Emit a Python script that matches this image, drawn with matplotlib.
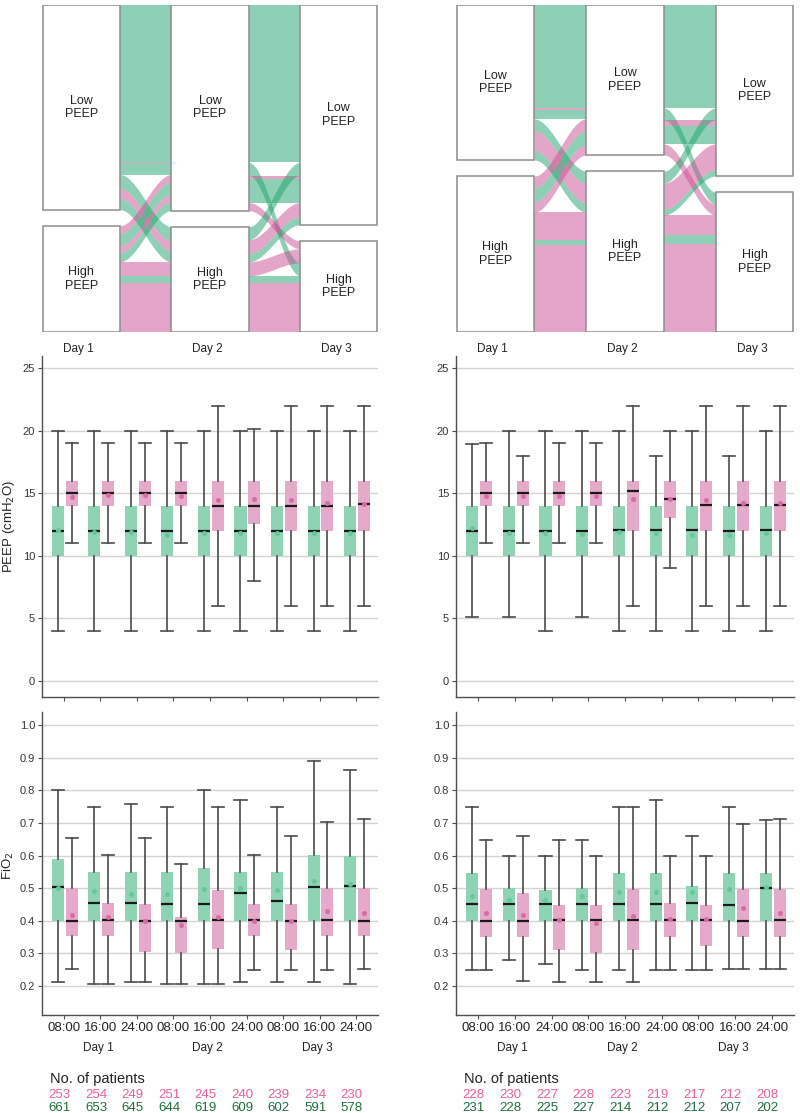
import numpy as np
import matplotlib
matplotlib.use("Agg")
import matplotlib.pyplot as plt
from matplotlib.patches import Rectangle
import matplotlib.transforms as mtransforms

plt.rcParams['font.family'] = ['Liberation Sans', 'DejaVu Sans']

# ---------------- data ----------------
days = ['Day 1', 'Day 2', 'Day 3']
times = ['08:00', '16:00', '24:00', '08:00', '16:00', '24:00', '08:00', '16:00', '24:00']
strata_names = {'L': 'Low\nPEEP', 'H': 'High\nPEEP'}

# alluvial flows (G = green arm, P = pink arm): origin stratum, destination stratum, patients
left_d12_group = ['G', 'P', 'G', 'G', 'P', 'G', 'P', 'G', 'P', 'G', 'P', 'G', 'P']
left_d12_from = ['L', 'L', 'L', 'L', 'L', 'L', 'H', 'H', 'H', 'H', 'H', 'H', 'H']
left_d12_to = ['L', 'L', 'L', 'H', 'H', 'H', 'L', 'L', 'L', 'L', 'H', 'H', 'H']
left_d12_n = [471, 3, 33, 42, 30, 33, 24, 36, 21, 27, 42, 21, 147]
left_d12_order = [0, 1, 2, 3, 4, 5, 6, 7, 8, 9, 10, 11, 12]

left_d23_group = ['G', 'G', 'P', 'G', 'P', 'G', 'P', 'G', 'P', 'G', 'P']
left_d23_from = ['L', 'L', 'L', 'L', 'L', 'H', 'H', 'H', 'H', 'H', 'H']
left_d23_to = ['L', 'H', 'L', 'L', 'H', 'L', 'L', 'L', 'H', 'H', 'H']
left_d23_n = [471, 39, 9, 72, 24, 39, 42, 24, 42, 21, 147]
left_d23_order = [0, 5, 2, 3, 6, 7, 4, 8, 1, 9, 10]

right_d12_group = ['G', 'P', 'G', 'G', 'P', 'G', 'P', 'G', 'P', 'P', 'G', 'P']
right_d12_from = ['L', 'L', 'L', 'L', 'L', 'L', 'H', 'H', 'H', 'H', 'H', 'H']
right_d12_to = ['L', 'L', 'L', 'H', 'H', 'H', 'L', 'L', 'L', 'H', 'H', 'H']
right_d12_n = [309, 6, 27, 36, 60, 27, 36, 42, 30, 84, 15, 261]
right_d12_order = [0, 1, 2, 3, 4, 5, 6, 7, 8, 9, 10, 11]

right_d23_group = ['G', 'G', 'P', 'G', 'P', 'G', 'P', 'G', 'P', 'G', 'P']
right_d23_from = ['L', 'L', 'L', 'L', 'L', 'H', 'H', 'H', 'H', 'H', 'H']
right_d23_to = ['L', 'H', 'L', 'L', 'H', 'L', 'L', 'L', 'H', 'H', 'H']
right_d23_n = [309, 36, 18, 54, 33, 36, 78, 18, 60, 27, 264]
right_d23_order = [0, 5, 2, 3, 6, 7, 1, 4, 8, 9, 10]

# box statistics per time point: (whisker low, Q1, median, Q3, whisker high, mean)
peep_left_green = [(4, 10, 12, 14, 20, 12.1), (4, 10, 12, 14, 20, 11.9), (4, 10, 12, 14, 20, 11.9),
                   (4, 10, 12, 14, 20, 11.7), (4, 10, 12, 14, 20, 11.85), (4, 10, 12, 14, 20, 11.85),
                   (4, 10, 12, 14, 20, 11.85), (4, 10, 12, 14, 20, 11.8), (4, 10, 12, 14, 20, 11.8)]
peep_left_pink = [(11, 14, 15, 16, 19, 14.66), (11, 14, 15, 16, 19, 14.87), (11, 14, 15, 16, 19, 14.87),
                  (11, 14, 15, 16, 19, 14.8), (6, 12, 14, 16, 22, 14.45), (8, 12.5, 14, 16, 20.1, 14.53),
                  (6, 12, 14, 16, 22, 14.47), (6, 12, 14, 16, 22, 14.2), (6, 12, 14.1, 16, 22, 14.15)]
peep_right_green = [(5.1, 10, 12, 14, 18.9, 12.26), (5.1, 10, 12, 14, 20, 11.84), (4, 10, 12, 14, 20, 11.84),
                    (5.1, 10, 12, 14, 20, 11.76), (4, 10, 12.05, 14, 20, 11.9), (4, 10, 12.05, 14, 18, 11.84),
                    (4, 10, 12.05, 14, 20, 11.7), (4, 10, 12, 14, 18, 11.7), (4, 10, 12.05, 14, 20, 11.84)]
peep_right_pink = [(11, 14, 15.05, 16, 19, 14.8), (11, 14, 15.05, 16, 18, 14.8), (11, 14, 15.05, 16, 19, 14.8),
                   (11, 14, 15.05, 16, 19, 14.8), (6, 12, 15.2, 16, 22, 14.55), (9, 13, 14.55, 16, 20, 14.5),
                   (6, 12, 14.05, 16, 22, 14.44), (6, 12, 14.05, 16, 22, 14.23), (6, 11.97, 14.05, 16, 22, 14.18)]
fio2_left_green = [(0.212, 0.40, 0.503, 0.59, 0.80, 0.499), (0.207, 0.40, 0.454, 0.55, 0.75, 0.492),
                   (0.212, 0.40, 0.454, 0.55, 0.757, 0.481), (0.207, 0.40, 0.452, 0.55, 0.75, 0.481),
                   (0.207, 0.40, 0.452, 0.561, 0.80, 0.498), (0.212, 0.40, 0.486, 0.55, 0.769, 0.50),
                   (0.212, 0.40, 0.46, 0.55, 0.75, 0.493), (0.212, 0.40, 0.503, 0.602, 0.89, 0.522),
                   (0.207, 0.40, 0.505, 0.60, 0.862, 0.514)]
fio2_left_pink = [(0.251, 0.352, 0.40, 0.50, 0.653, 0.418), (0.207, 0.352, 0.403, 0.455, 0.602, 0.41),
                  (0.212, 0.303, 0.40, 0.45, 0.653, 0.40), (0.207, 0.30, 0.40, 0.413, 0.573, 0.388),
                  (0.207, 0.312, 0.402, 0.494, 0.75, 0.41), (0.25, 0.352, 0.403, 0.452, 0.602, 0.40),
                  (0.248, 0.31, 0.40, 0.45, 0.66, 0.40), (0.248, 0.352, 0.403, 0.50, 0.702, 0.431),
                  (0.251, 0.352, 0.40, 0.50, 0.712, 0.424)]
fio2_right_green = [(0.248, 0.40, 0.451, 0.546, 0.748, 0.476), (0.279, 0.40, 0.451, 0.50, 0.60, 0.463),
                    (0.266, 0.40, 0.451, 0.495, 0.60, 0.463), (0.248, 0.40, 0.451, 0.50, 0.648, 0.476),
                    (0.248, 0.40, 0.451, 0.546, 0.748, 0.487), (0.248, 0.40, 0.451, 0.546, 0.769, 0.487),
                    (0.248, 0.40, 0.454, 0.507, 0.66, 0.487), (0.253, 0.40, 0.448, 0.546, 0.748, 0.497),
                    (0.253, 0.40, 0.50, 0.546, 0.71, 0.502)]
fio2_right_pink = [(0.248, 0.35, 0.40, 0.498, 0.648, 0.423), (0.214, 0.35, 0.40, 0.484, 0.66, 0.418),
                   (0.213, 0.31, 0.402, 0.449, 0.648, 0.402), (0.213, 0.30, 0.402, 0.449, 0.60, 0.393),
                   (0.213, 0.31, 0.402, 0.498, 0.748, 0.416), (0.248, 0.35, 0.402, 0.453, 0.60, 0.405),
                   (0.248, 0.323, 0.402, 0.449, 0.60, 0.405), (0.253, 0.35, 0.398, 0.498, 0.698, 0.438),
                   (0.253, 0.35, 0.402, 0.498, 0.712, 0.425)]

n_pink_left = [253, 254, 249, 251, 245, 240, 239, 234, 230]
n_green_left = [661, 653, 645, 644, 619, 609, 602, 591, 578]
n_pink_right = [228, 230, 227, 228, 223, 219, 217, 212, 208]
n_green_right = [231, 228, 225, 227, 214, 212, 212, 207, 202]

# ---------------- style ----------------
FLOW = {'G': '#1FA36C', 'P': '#CB4E93'}
BOX_G, BOX_P = '#8FD3B5', '#E5A9C9'
MEAN_G, MEAN_P = '#66C898', '#D66CA3'
NUM_P, NUM_G = '#EC5E98', '#1E6E3A'
WHISK = '#4a4a4a'
GRID = '#d3d3d3'

W, H = 800, 1113
fig = plt.figure(figsize=(W / 100, H / 100), dpi=100)


def fax(x0, y0, x1, y1):
    return fig.add_axes([x0 / W, 1 - y1 / H, (x1 - x0) / W, (y1 - y0) / H])


NODE_W, FLOW_W = 1.5, 1.0


def stack(strat, ns, order, top_low, top_high):
    pos = {}
    cur = {'L': top_low, 'H': top_high}
    for i in order:
        s = strat[i]
        pos[i] = (cur[s] - ns[i], cur[s])
        cur[s] -= ns[i]
    return pos


def alluvial(ax, segs):
    total = sum(segs[0][3])
    gap = total * 16 / 310
    top = total + gap
    axis_sizes = []
    for k, (g, fr, to, n, order) in enumerate(segs):
        lowL = sum(v for s, v in zip(fr, n) if s == 'L')
        lowR = sum(v for s, v in zip(to, n) if s == 'L')
        if k == 0:
            axis_sizes.append(lowL)
        axis_sizes.append(lowR)
        left = stack(fr, n, range(len(n)), top, total - lowL)
        right = stack(to, n, order, top, total - lowR)
        x0 = k * (NODE_W + FLOW_W) + NODE_W
        x1 = x0 + FLOW_W
        t = np.linspace(0, 1, 80)
        sm = t * t * (3 - 2 * t)
        xs = x0 + (x1 - x0) * t
        for i in range(len(n)):
            a0, a1 = left[i]
            b0, b1 = right[i]
            ax.fill_between(xs, a0 + (b0 - a0) * sm, a1 + (b1 - a1) * sm,
                            color=FLOW[g[i]], alpha=0.5, lw=0, zorder=1)
    for k, low in enumerate(axis_sizes):
        xl = k * (NODE_W + FLOW_W)
        for (y0, y1, lab) in [(top - low, top, 'L'), (0, total - low, 'H')]:
            ax.add_patch(Rectangle((xl, y0), NODE_W, y1 - y0, facecolor='white',
                                   edgecolor='#8c8c8c', lw=1.1, zorder=3))
            ax.text(xl + NODE_W / 2, (y0 + y1) / 2, strata_names[lab], ha='center', va='center',
                    fontsize=9, color='#222222', zorder=4, linespacing=1.15)
    ax.set_xlim(-0.01, 3 * NODE_W + 2 * FLOW_W + 0.01)
    ax.set_ylim(0, top)
    ax.axis('off')
    trans = mtransforms.blended_transform_factory(ax.transData, fig.transFigure)
    for k, d in enumerate(days):
        ax.text(k * (NODE_W + FLOW_W) + NODE_W / 2 - 0.05, 1 - 349 / H, d, transform=trans,
                ha='center', va='center', fontsize=8.5, color='#222222')


axA = fax(42, 5, 378, 332)
alluvial(axA, [(left_d12_group, left_d12_from, left_d12_to, left_d12_n, left_d12_order),
               (left_d23_group, left_d23_from, left_d23_to, left_d23_n, left_d23_order)])
axB = fax(456, 5, 794, 332)
alluvial(axB, [(right_d12_group, right_d12_from, right_d12_to, right_d12_n, right_d12_order),
               (right_d23_group, right_d23_from, right_d23_to, right_d23_n, right_d23_order)])

positions = np.arange(1, 10)
BW = 0.33
OFF_G, OFF_P = -0.165, 0.215


def boxes(ax, stats, off, fc, mc):
    bx = [dict(whislo=s[0], q1=s[1], med=s[2], q3=s[3], whishi=s[4], mean=s[5], fliers=[]) for s in stats]
    ax.bxp(bx, positions=positions + off, widths=BW, capwidths=BW, patch_artist=True,
           showmeans=True, showfliers=False, manage_ticks=False,
           boxprops=dict(facecolor=fc, edgecolor=fc, linewidth=0),
           whiskerprops=dict(color=WHISK, linewidth=1.2),
           capprops=dict(color=WHISK, linewidth=1.2),
           medianprops=dict(color='#1a1a1a', linewidth=1.6),
           meanprops=dict(marker='o', markersize=3.6, markerfacecolor=mc, markeredgecolor='none'))


def style(ax, yt, ylim, fmt, show_x):
    ax.set_xlim(0.4, 9.6)
    ax.set_ylim(*ylim)
    ax.set_yticks(yt)
    ax.set_yticklabels([fmt(v) for v in yt], fontsize=8, color='#333333')
    ax.yaxis.grid(True, color=GRID, lw=1.0, zorder=0)
    ax.set_axisbelow(True)
    for s in ['top', 'right']:
        ax.spines[s].set_visible(False)
    for s in ['left', 'bottom']:
        ax.spines[s].set_color('#4d4d4d')
        ax.spines[s].set_linewidth(1.0)
    ax.tick_params(axis='both', length=3, width=0.8, color='#4d4d4d', pad=2)
    ax.set_xticks(positions)
    if show_x:
        ax.set_xticklabels(times, fontsize=9.5, color='#222222')
    else:
        ax.set_xticklabels([])


peep_ticks = [0, 5, 10, 15, 20, 25]
fio2_ticks = [0.2, 0.3, 0.4, 0.5, 0.6, 0.7, 0.8, 0.9, 1.0]

panels = [
    (42, 378, peep_left_green, peep_left_pink, fio2_left_green, fio2_left_pink, n_pink_left, n_green_left),
    (456, 794, peep_right_green, peep_right_pink, fio2_right_green, fio2_right_pink, n_pink_right, n_green_right),
]

for (x0, x1, pg, pp, fg, fp, npk, ngr) in panels:
    ax1 = fax(x0, 356, x1, 697)
    boxes(ax1, pg, OFF_G, BOX_G, MEAN_G)
    boxes(ax1, pp, OFF_P, BOX_P, MEAN_P)
    style(ax1, peep_ticks, (-1.28, 25.96), lambda v: f"{v:d}", False)

    ax2 = fax(x0, 712, x1, 1015)
    boxes(ax2, fg, OFF_G, BOX_G, MEAN_G)
    boxes(ax2, fp, OFF_P, BOX_P, MEAN_P)
    style(ax2, fio2_ticks, (0.111, 1.04), lambda v: f"{v:.1f}", True)

    trans = mtransforms.blended_transform_factory(ax2.transData, fig.transFigure)
    for k, d in enumerate(days):
        ax2.text(positions[3 * k + 1] - 0.06, 1 - 1048 / H, d, transform=trans,
                 ha='center', va='center', fontsize=8.5, color='#222222')
    ax2.text(positions[0] - 0.37, 1 - 1079 / H, 'No. of patients', transform=trans,
             ha='left', va='center', fontsize=10.5, color='#222222')
    for p, a, b in zip(positions, npk, ngr):
        ax2.text(p - 0.12, 1 - 1095 / H, str(a), transform=trans, ha='center', va='center',
                 fontsize=9.5, color=NUM_P)
        ax2.text(p - 0.12, 1 - 1108 / H, str(b), transform=trans, ha='center', va='center',
                 fontsize=9.5, color=NUM_G)

fig.text(9 / W, 1 - 527 / H, 'PEEP (cmH$_2$O)', rotation=90, ha='center', va='center',
         fontsize=9.5, color='#222222')
fig.text(8 / W, 1 - 866 / H, 'FiO$_2$', rotation=90, ha='center', va='center',
         fontsize=9.5, color='#222222')

fig.savefig('out.png', dpi=100, facecolor='white')
